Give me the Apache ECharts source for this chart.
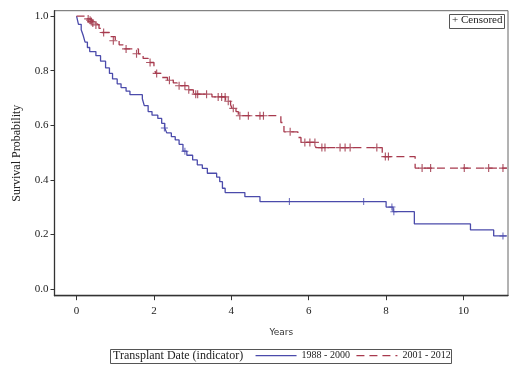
<!DOCTYPE html>
<html>
<head>
<meta charset="utf-8">
<script src="https://cdn.jsdelivr.net/npm/echarts@6/dist/echarts.min.js"></script>
<style>
  html, body { margin: 0; padding: 0; background: #fff; }
  #chart { width: 520px; height: 370px; }
</style>
</head>
<body>
<div id="chart"></div>
<script>
// Kaplan-Meier steps: time in years, survival after the step
const earlyTimes = [0, 0.05, 0.12, 0.17, 0.22, 0.28, 0.34, 0.5, 0.62, 0.75, 0.85, 0.93, 1.05, 1.15, 1.28, 1.38,
  1.7, 1.75, 1.85, 1.95, 2.1, 2.2, 2.28, 2.33, 2.45, 2.55, 2.65, 2.75, 2.85, 3.0, 3.12, 3.25, 3.38,
  3.62, 3.7, 3.77, 3.84, 4.35, 4.74, 8.0, 8.18, 8.73, 10.18, 10.78, 11.12];
const earlySurv = [1, 0.97, 0.95, 0.93, 0.905, 0.885, 0.87, 0.855, 0.835, 0.81, 0.79, 0.77, 0.752, 0.738, 0.725, 0.712,
  0.697, 0.672, 0.65, 0.637, 0.625, 0.607, 0.59, 0.572, 0.558, 0.546, 0.53, 0.505, 0.49, 0.473, 0.455, 0.442, 0.424,
  0.41, 0.393, 0.369, 0.353, 0.338, 0.32, 0.30, 0.283, 0.238, 0.216, 0.194, 0.194];
const earlyCensT = [2.27, 2.8, 5.5, 7.42, 8.15, 8.2, 11.02];
const earlyCensS = [0.59, 0.505, 0.32, 0.32, 0.30, 0.283, 0.194];

const lateTimes = [0, 0.27, 0.33, 0.4, 0.48, 0.58, 0.65, 0.85, 1.0, 1.1, 1.2, 1.6, 1.72, 1.85, 2.0, 2.05, 2.2,
  2.35, 2.5, 2.6, 2.87, 3.02, 3.5, 3.85, 3.98, 4.02, 4.12, 4.18, 5.28, 5.36, 5.72, 5.8, 6.18, 7.9, 8.75, 11.12];
const lateSurv = [1, 0.99, 0.985, 0.975, 0.968, 0.955, 0.94, 0.925, 0.91, 0.895, 0.88, 0.862, 0.845, 0.83, 0.808, 0.79, 0.775,
  0.765, 0.755, 0.745, 0.73, 0.714, 0.704, 0.688, 0.675, 0.662, 0.65, 0.635, 0.61, 0.576, 0.555, 0.537, 0.518, 0.485, 0.443, 0.443];
const lateCensT = [0.3, 0.35, 0.38, 0.42, 0.5, 0.7, 0.95, 1.28, 1.55, 1.9, 2.07, 2.4, 2.65, 2.8, 2.9, 3.08, 3.13, 3.36,
  3.66, 3.75, 3.84, 3.92, 4.05, 4.22, 4.44, 4.74, 4.83, 5.52, 5.9, 6.03, 6.16, 6.34, 6.42, 6.81, 6.94, 7.07, 7.76,
  7.98, 8.06, 8.93, 9.15, 10.02, 10.65, 11.02];
const lateCensS = [0.99, 0.985, 0.98, 0.975, 0.968, 0.94, 0.91, 0.88, 0.862, 0.83, 0.79, 0.765, 0.745, 0.745, 0.73, 0.714, 0.714, 0.714,
  0.704, 0.704, 0.704, 0.688, 0.662, 0.635, 0.635, 0.635, 0.635, 0.576, 0.537, 0.537, 0.537, 0.518, 0.518, 0.518, 0.518, 0.518, 0.518,
  0.485, 0.485, 0.443, 0.443, 0.443, 0.443, 0.443];

const xTicks = [0, 2, 4, 6, 8, 10];
const yTicks = [0, 0.2, 0.4, 0.6, 0.8, 1.0];
const groupNames = ['1988 - 2000', '2001 - 2012'];

const zip = (a, b) => a.map((v, i) => [v, b[i]]);
const cross = 'path://M6,0h2v6h6v2h-6v6h-2v-6h-6v-2h6z';
const serif = '"Liberation Serif", "Times New Roman", serif';
const blue = '#4b4bab';
const red = '#a83a4e';

const chart = echarts.init(document.getElementById('chart'));
chart.setOption({
  backgroundColor: '#fff',
  animation: false,
  grid: {
    left: 54.5, right: 12, top: 10.7, bottom: 74.3,
    show: true, borderColor: '#666', borderWidth: 1
  },
  xAxis: {
    type: 'value',
    min: -0.57, max: 11.15,
    name: 'Years',
    nameLocation: 'middle',
    nameGap: 32,
    nameTextStyle: { fontFamily: '"DejaVu Sans", sans-serif', fontSize: 9, color: '#333' },
    axisLine: { show: true, onZero: false, lineStyle: { color: '#333', width: 1.3 } },
    axisTick: { show: true, length: 4.5, customValues: xTicks, lineStyle: { color: '#333' } },
    axisLabel: { customValues: xTicks, margin: 10, fontFamily: serif, fontSize: 11, color: '#222' },
    splitLine: { show: false }
  },
  yAxis: {
    type: 'value',
    min: -0.025, max: 1.02,
    name: 'Survival Probability',
    nameLocation: 'middle',
    nameGap: 32,
    nameTextStyle: { fontFamily: serif, fontSize: 12, color: '#222' },
    axisLine: { show: true, onZero: false, lineStyle: { color: '#333', width: 1.3 } },
    axisTick: { show: true, length: 4, customValues: yTicks, lineStyle: { color: '#333' } },
    axisLabel: { customValues: yTicks, margin: 6, fontFamily: serif, fontSize: 11, color: '#222',
      formatter: v => v.toFixed(1) },
    splitLine: { show: false }
  },
  legend: {
    data: groupNames,
    left: 255, top: 350, padding: 0,
    itemWidth: 41, itemHeight: 14, itemGap: 6,
    itemStyle: { opacity: 0 },
    lineStyle: { width: 1.1 },
    textStyle: { fontFamily: serif, fontSize: 10, color: '#222' }
  },
  graphic: [
    { type: 'rect', shape: { x: 110.5, y: 349.5, width: 341, height: 14 },
      style: { fill: 'none', stroke: '#555', lineWidth: 1 } },
    { type: 'text', left: 113, top: 350,
      style: { text: 'Transplant Date (indicator)', font: '12px ' + serif, fill: '#222' } },
    { type: 'rect', shape: { x: 449.5, y: 14.5, width: 55, height: 14 },
      style: { fill: '#fff', stroke: '#555', lineWidth: 1 } },
    { type: 'text', left: 452, top: 15,
      style: { text: '+ Censored', font: '11px ' + serif, fill: '#222' } }
  ],
  series: [
    {
      name: groupNames[0], type: 'line', step: 'end', symbol: 'none',
      data: zip(earlyTimes, earlySurv),
      lineStyle: { color: blue, width: 1.3 }, itemStyle: { color: blue }
    },
    {
      name: groupNames[1], type: 'line', step: 'end', symbol: 'none',
      data: zip(lateTimes, lateSurv),
      lineStyle: { color: red, width: 1.3, type: [8, 5] }, itemStyle: { color: red }
    },
    {
      type: 'scatter', symbol: cross, symbolSize: 7,
      data: zip(earlyCensT, earlyCensS), itemStyle: { color: '#3c3ca8' }
    },
    {
      type: 'scatter', symbol: cross, symbolSize: 8,
      data: zip(lateCensT, lateCensS), itemStyle: { color: '#9a2a3e' }
    }
  ]
});
</script>
</body>
</html>
